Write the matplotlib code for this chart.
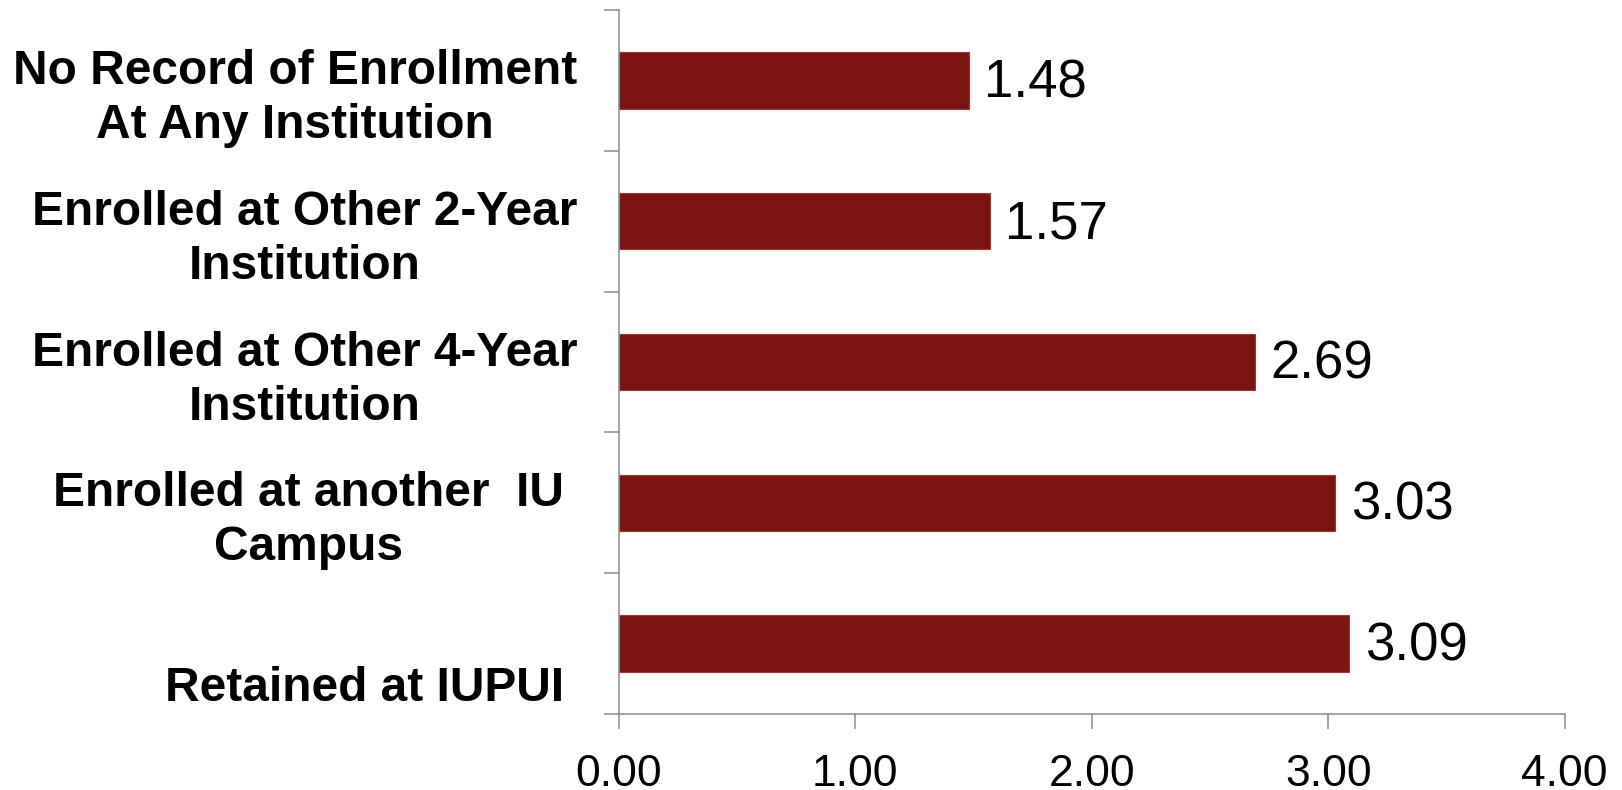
import numpy as np
import matplotlib
matplotlib.use("Agg")
from matplotlib import pyplot as plt
from matplotlib.transforms import ScaledTranslation

categorias = ["No Record of Enrollment\nAt Any Institution",
              "Enrolled at Other 2-Year\nInstitution",
              "Enrolled at Other 4-Year\nInstitution",
              "Enrolled at another  IU\nCampus",
              "\nRetained at IUPUI"]
valores = [1.48, 1.57, 2.69, 3.03, 3.09]
xticks = [0.0, 1.0, 2.0, 3.0, 4.0]

plt.rcParams['font.family'] = ['Liberation Sans', 'DejaVu Sans']

cor_barra = "#7b1410"
cinza = "#8c8c8c"

fig = plt.figure(figsize=(16.22, 7.9), dpi=100)
ax = fig.add_axes([0.3816, 0.0962, 0.583, 0.891])

y = np.arange(len(categorias))
ax.barh(y, valores, height=0.4, color=cor_barra, edgecolor="#9e3a35", linewidth=0.8)

for yi, v in zip(y, valores):
    ax.annotate("%.2f" % v, (v, yi), xytext=(11, -2), textcoords="offset points",
                va="center", ha="left", fontsize=38)

ax.set_xlim(0, 4)
ax.set_ylim(-0.5, len(categorias) - 0.5)
ax.invert_yaxis()

ax.set_xticks(xticks)
ax.set_xticklabels(["%.2f" % t for t in xticks], fontsize=32)
ax.tick_params(axis="x", direction="out", length=10.8, width=1.1, color=cinza, pad=18)

ax.set_yticks(y)
ax.set_yticklabels(categorias, fontsize=34.5, fontweight="bold", va="center",
                   multialignment="center", linespacing=1.26)
ax.set_yticks(np.arange(-0.5, len(categorias)), minor=True)
ax.tick_params(axis="y", which="major", length=0, pad=30)
ax.tick_params(axis="y", which="minor", direction="out", length=10.8, width=1.1, color=cinza)

# deslocamento dos rotulos (como no original)
for i, lab in enumerate(ax.get_yticklabels()):
    dx = -13 if i >= 3 else 0
    lab.set_transform(lab.get_transform() + ScaledTranslation(dx / 100, -18 / 100, fig.dpi_scale_trans))

for s in ["top", "right"]:
    ax.spines[s].set_visible(False)
for s in ["left", "bottom"]:
    ax.spines[s].set_color(cinza)
    ax.spines[s].set_linewidth(1.1)

plt.savefig("out.png", dpi=100)
